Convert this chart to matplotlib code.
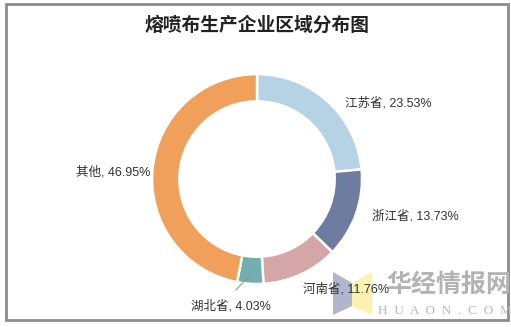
import matplotlib
matplotlib.use('Agg')
from matplotlib import pyplot as plt
from matplotlib.patches import Rectangle, Polygon
from matplotlib.lines import Line2D
from matplotlib.transforms import Affine2D

# data
regions = ["江苏省", "浙江省", "河南省", "湖北省", "其他"]
shares = [23.53, 13.73, 11.76, 4.03, 46.95]
colors = ["#b5d3e5", "#6f7ca2", "#d5a6a8", "#72afaf", "#f0a05b"]

plt.rcParams['font.family'] = ['Liberation Sans', 'Noto Sans CJK SC']

fig = plt.figure(figsize=(5.11, 3.27), dpi=100)
# pixel coordinates from the top-left corner
px = Affine2D().scale(1 / 511, -1 / 327).translate(0, 1) + fig.transFigure

# gray frame round the whole picture
fig.patches.append(Rectangle((6, 4), 502, 316, transform=px, fill=False,
                             edgecolor="#8c8c8c", linewidth=2))

fig.text(257, 25, "熔喷布生产企业区域分布图", transform=px, ha="center", va="center",
         fontsize=13.5, fontweight="bold", color="#222222")

# donut
ax = fig.add_axes([0.2975, 0.1315, 0.411, 0.642])
ax.pie(shares, colors=colors, startangle=90, counterclock=False,
       wedgeprops=dict(width=0.26, edgecolor="white", linewidth=1.8))
ax.set_xlim(-1, 1)
ax.set_ylim(-1, 1)
ax.set_aspect("equal")
ax.axis("off")

# watermark logo and text
logo_blue = Polygon([(333, 272), (352, 283), (352, 306), (333, 315)], closed=True,
                    facecolor="#a9adc9", edgecolor="none", alpha=0.9, transform=px)
logo_yel = Polygon([(352, 283), (372, 272), (372, 315), (352, 306)], closed=True,
                   facecolor="#fdf0a6", edgecolor="none", alpha=0.9, transform=px)
fig.patches.extend([logo_blue, logo_yel])
fig.text(449, 285, "华经情报网", transform=px, ha="center", va="center", fontsize=18,
         fontweight="bold", color="#b3b3b3", family=['Noto Sans CJK SC'])
fig.text(445, 311, "H  U  A  O  N  .  C  O  M", transform=px, ha="center", va="center",
         fontsize=9.5, color="#b8b8b8", family=['Liberation Serif'])

# data labels
label_pos = [(345, 103, "left"), (372, 216, "left"), (303, 289, "left"),
             (191, 306, "left"), (150, 172, "right")]
for name, val, (x, y, ha) in zip(regions, shares, label_pos):
    fig.text(x, y, f"{name}, {val:.2f}%", transform=px, ha=ha, va="center",
             fontsize=9, color="#333333")

# leader line for the small slice
fig.lines.append(Line2D([249, 236], [276, 290], transform=px,
                        color="#999999", linewidth=0.8))

fig.savefig("out.png", dpi=100)
